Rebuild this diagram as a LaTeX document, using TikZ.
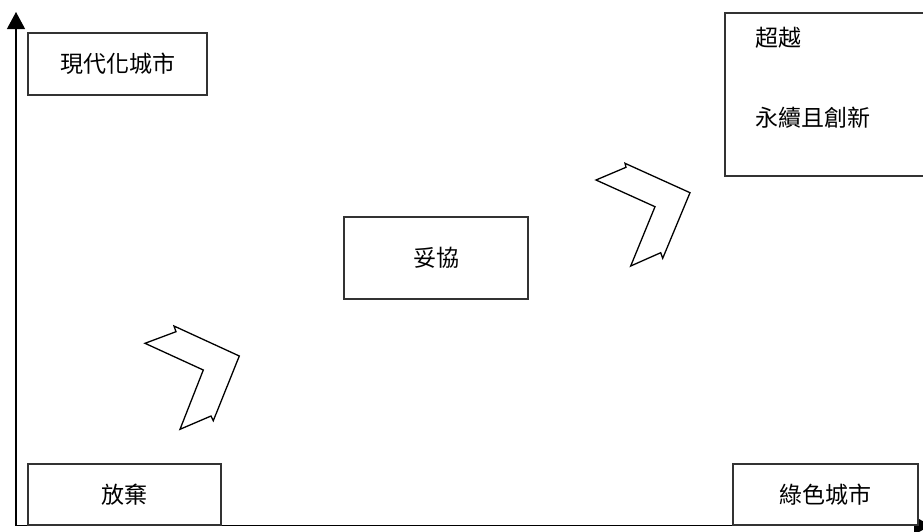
\documentclass[tikz,border=0pt]{standalone}
\usepackage{fontspec}
\newfontfamily\cjk{Noto Sans CJK TC}
\usetikzlibrary{arrows.meta}
\tikzset{
  box/.style={draw=black!80, line width=1.2pt, fill=white, rectangle, inner sep=0pt, font=\cjk\fontsize{23}{27}\selectfont},
  lbl/.style={inner sep=0pt, font=\cjk\fontsize{23}{27}\selectfont},
  axis/.style={draw=black, line width=1.2pt, -{Triangle[length=17pt,width=18pt]}},
  chev/.style={draw=black, line width=1.3pt, line join=miter, fill=white},
}
\begin{document}
\begin{tikzpicture}[x=1pt,y=-1pt]
\useasboundingbox (0,0) rectangle (923,531);
% axes
\coordinate (o) at (16,525.5);
\coordinate (ytop) at (16,12);
\coordinate (xend) at (931,525.5);
\draw[axis] (o) -- (ytop);
\draw[axis] (o) -- (xend);
% boxes
\node[box, minimum width=179pt, minimum height=62pt] (modern) at (117.5,64) {現代化城市};
\node[box, minimum width=193pt, minimum height=61pt] (abandon) at (124.5,494.5) {放棄};
\node[box, minimum width=185pt, minimum height=61pt] (green) at (825.5,494.5) {綠色城市};
\node[box, minimum width=184pt, minimum height=82pt] (comp) at (436,258) {妥協};
\node[box, minimum width=210pt, minimum height=163pt] (beyond) at (830,94.5) {};
\node[lbl, anchor=west] (t1) at (755,38) {超越};
\node[lbl, anchor=west] (t2) at (755,118) {永續且創新};
% chevrons
\draw[chev] (145,343.3) -- (176,331.7) -- (174,326) -- (239.3,356) -- (213.3,420.7) -- (211,416) -- (180,429.3) -- (203.3,370) -- cycle;
\draw[chev] (596,180) -- (626,167.3) -- (625,163.3) -- (690,192.7) -- (662.7,258.3) -- (660.7,252.7) -- (630.7,266) -- (655,206.7) -- cycle;
\end{tikzpicture}
\end{document}
